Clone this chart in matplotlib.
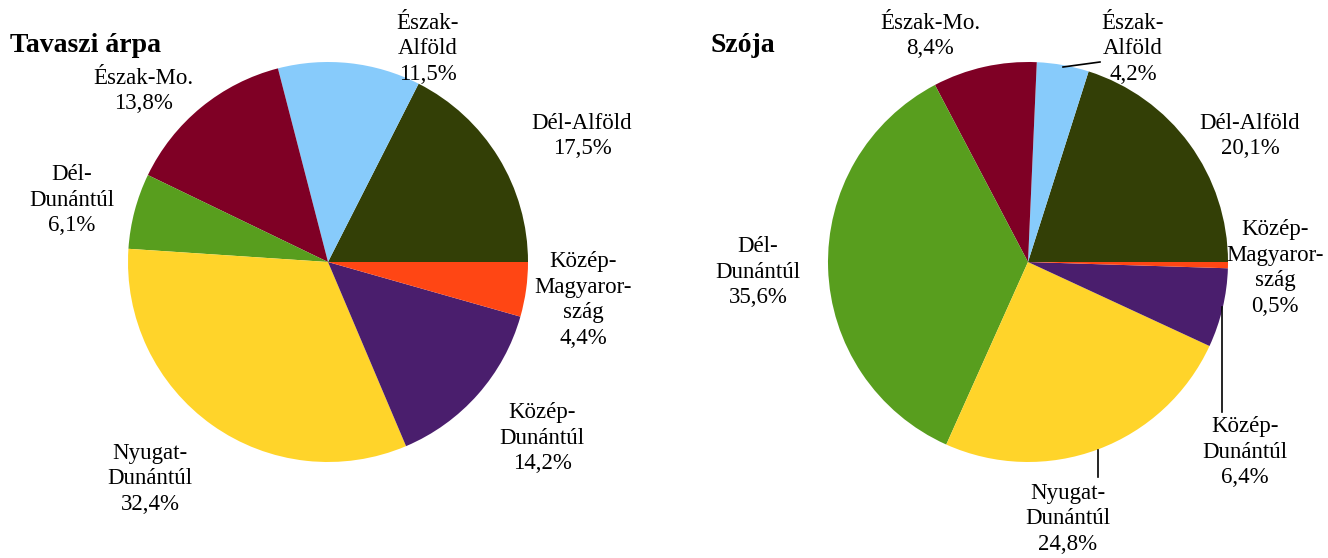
import matplotlib
matplotlib.use("Agg")
import matplotlib.pyplot as plt

plt.rcParams['font.family'] = ['Liberation Serif', 'DejaVu Serif']

regions = ["Dél-Alföld", "Észak-Alföld", "Észak-Mo.", "Dél-Dunántúl",
           "Nyugat-Dunántúl", "Közép-Dunántúl", "Közép-Magyarország"]
label_text = ["Dél-Alföld", "Észak-\nAlföld", "Észak-Mo.", "Dél-\nDunántúl",
              "Nyugat-\nDunántúl", "Közép-\nDunántúl", "Közép-\nMagyaror-\nszág"]
colors = ["#333F06", "#87CBFB", "#7F0025", "#589E1E", "#FFD42A", "#4A1E6D", "#FF4614"]

arpa_values = [17.5, 11.5, 13.8, 6.1, 32.4, 14.2, 4.4]
szoja_values = [20.1, 4.2, 8.4, 35.6, 24.8, 6.4, 0.5]
titles = ["Tavaszi árpa", "Szója"]

W, H = 1328, 558
fig = plt.figure(figsize=(W / 100, H / 100), dpi=100)
ax = fig.add_axes([0, 0, 1, 1])

R = 200
centers = [(328, H - 262), (1028, H - 262)]

for vals, c in zip([arpa_values, szoja_values], centers):
    ax.pie(vals, colors=colors, startangle=0, counterclock=True, center=c,
           radius=R, wedgeprops=dict(linewidth=0), frame=True)

ax.set_xlim(0, W)
ax.set_ylim(0, H)
ax.set_aspect('equal')
ax.axis('off')

def fmt(v):
    return f"{v:.1f}".replace('.', ',') + "%"

fs = 16.5
# label positions in pixel coords (x, y from top)
pos_left = [(582, 136), (428, 49), (143, 91), (72, 200), (150, 479), (542, 438), (583, 300)]
pos_right = [(1250, 136), (1133, 49), (930, 36), (758, 272), (1068, 519), (1245, 452), (1275, 268)]

for vals, poss in zip([arpa_values, szoja_values], [pos_left, pos_right]):
    for lab, v, (x, y) in zip(label_text, vals, poss):
        ax.text(x, H - y, lab + "\n" + fmt(v), ha='center', va='center',
                fontsize=fs, linespacing=1.3)

# leader lines (right pie)
ax.plot([1063, 1100], [H - 67, H - 62], color='black', lw=1.2)
ax.plot([1222, 1222], [H - 307, H - 412], color='black', lw=1.2)
ax.plot([1098, 1098], [H - 450, H - 477], color='black', lw=1.2)

ax.text(10, H - 45, titles[0], ha='left', va='center', fontsize=20, fontweight='bold')
ax.text(710, H - 45, titles[1], ha='left', va='center', fontsize=20, fontweight='bold')

fig.savefig("out.png", dpi=100)
